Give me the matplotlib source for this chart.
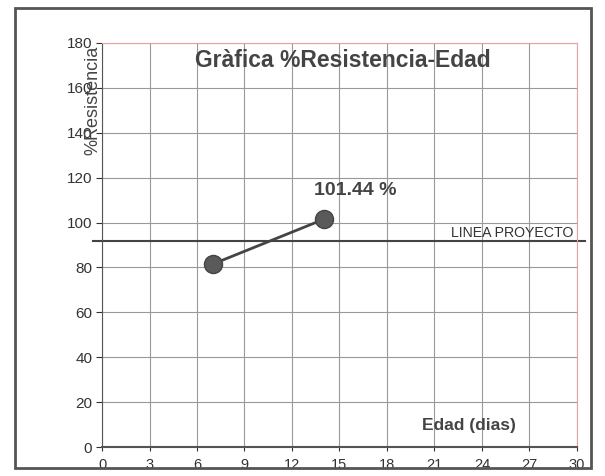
import matplotlib
matplotlib.use("Agg")
import matplotlib.pyplot as plt
from matplotlib.patches import Rectangle

plt.rcParams['font.family'] = ['Liberation Sans', 'DejaVu Sans']

edad = [7, 14]          # dias
resistencia = [81.5, 101.44]   # %
linea_proyecto = 92
etiqueta = "101.44 %"
x_ticks = list(range(0, 31, 3))
y_ticks = list(range(0, 181, 20))

fig = plt.figure(figsize=(6.05, 4.76), dpi=100)
ax = fig.add_axes([0.1686, 0.0609, 0.7851, 0.8488])

# marco exterior
fig.patches.append(Rectangle((0.024, 0.017), 0.953, 0.966, transform=fig.transFigure,
                             fill=False, edgecolor='#555555', linewidth=2.0))

ax.plot(edad, resistencia, color='#444444', linewidth=2, marker='o',
        markersize=13, markerfacecolor='#5a5a5a', markeredgecolor='#444444')

ax.axhline(linea_proyecto, xmin=-0.02, xmax=1.017, color='#444444', linewidth=1.5, clip_on=False)
ax.text(25.9, 95.4, "LINEA PROYECTO", fontsize=10.2, color='#333333',
        ha='center', va='center')

ax.text(16.0, 114.5, etiqueta, fontsize=14, fontweight='bold',
        color='#444444', ha='center', va='center')

ax.text(15.2, 172, "Gràfica %Resistencia-Edad", fontsize=16.5, fontweight='bold',
        color='#444444', ha='center', va='center')
ax.text(23.2, 9.5, "Edad (dias)", fontsize=12.5, fontweight='bold',
        color='#444444', ha='center', va='center')
# en el original la etiqueta del eje se monta sobre los numeros
ax.text(-0.55, 154.6, "%Resistencia", fontsize=13, color='#444444', rotation=90,
        ha='center', va='center')

ax.set_xlim(0, 30)
ax.set_ylim(0, 180)
ax.set_xticks(x_ticks)
ax.set_yticks(y_ticks)
ax.tick_params(axis='x', labelsize=10.5, colors='#333333', length=3, pad=5)
ax.tick_params(axis='y', labelsize=11, colors='#333333', length=4, pad=3)
ax.grid(True, color='#999999', linewidth=0.8)
ax.set_axisbelow(True)

ax.spines['top'].set_color('#e8a0a0')
ax.spines['right'].set_color('#e8a0a0')
ax.spines['left'].set_color('#555555')
ax.spines['bottom'].set_color('#555555')
ax.spines['bottom'].set_linewidth(1.5)

fig.savefig('out.png', dpi=100)
